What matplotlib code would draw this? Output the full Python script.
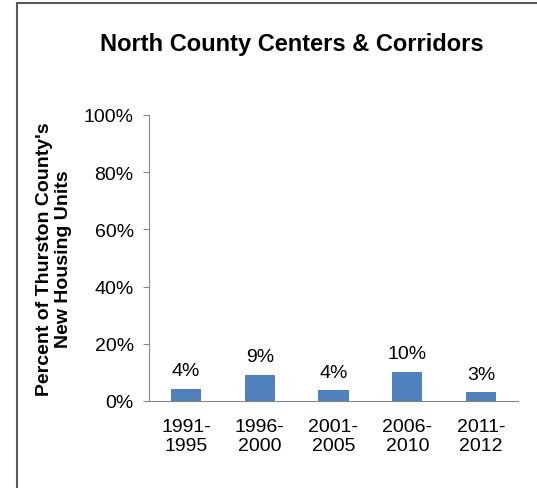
import numpy as np
import matplotlib.pyplot as plt
from matplotlib.patches import Rectangle

plt.rcParams['font.family'] = ['Liberation Sans', 'DejaVu Sans']

# --------------------- data ---------------------
periods = ["1991-\n1995", "1996-\n2000", "2001-\n2005", "2006-\n2010", "2011-\n2012"]
share   = [4.2, 9.2, 3.7, 10.2, 3.0]     # percent of county's new units
labels  = ["4%", "9%", "4%", "10%", "3%"]
# ------------------------------------------------

fig = plt.figure(figsize=(5.37, 4.89), dpi=100)
ax = fig.add_axes([0.2775, 0.178, 0.687, 0.585])

x = np.arange(len(periods))
ax.bar(x, share, width=0.41, color="#4F81BD")

for xi, v, lab in zip(x, share, labels):
    ax.annotate(lab, (xi, v), xytext=(0, 7), textcoords="offset points",
                ha="center", va="bottom", fontsize=14)

ax.set_xlim(-0.5, len(periods) - 0.5)
ax.set_ylim(0, 100)
ax.set_yticks(np.arange(0, 101, 20))
ax.set_yticklabels([f"{t}%" for t in range(0, 101, 20)], fontsize=14)
ax.set_xticks(x)
ax.set_xticklabels(periods, fontsize=14, linespacing=1.2)
ax.tick_params(axis="x", length=0, pad=12)
ax.tick_params(axis="y", length=4, color="#868686", pad=7)

for s in ["top", "right"]:
    ax.spines[s].set_visible(False)
for s in ["left", "bottom"]:
    ax.spines[s].set_color("#868686")

ax.set_ylabel("Percent of Thurston County's\nNew Housing Units", fontsize=14,
              fontweight="bold", linespacing=1.1)
ax.yaxis.set_label_coords(-0.21, 0.5)

fig.text(0.544, 0.91, "North County Centers & Corridors", ha="center",
         va="center", fontsize=17, fontweight="bold")

# outer chart border (left and top visible only, like the clipped original)
fig.patches.append(Rectangle((17 / 537, -0.1), 1.2, 1 - 4 / 489 + 0.1,
                             transform=fig.transFigure, fill=False,
                             edgecolor="#595959", linewidth=1.5))

fig.savefig("out.png", dpi=100)
